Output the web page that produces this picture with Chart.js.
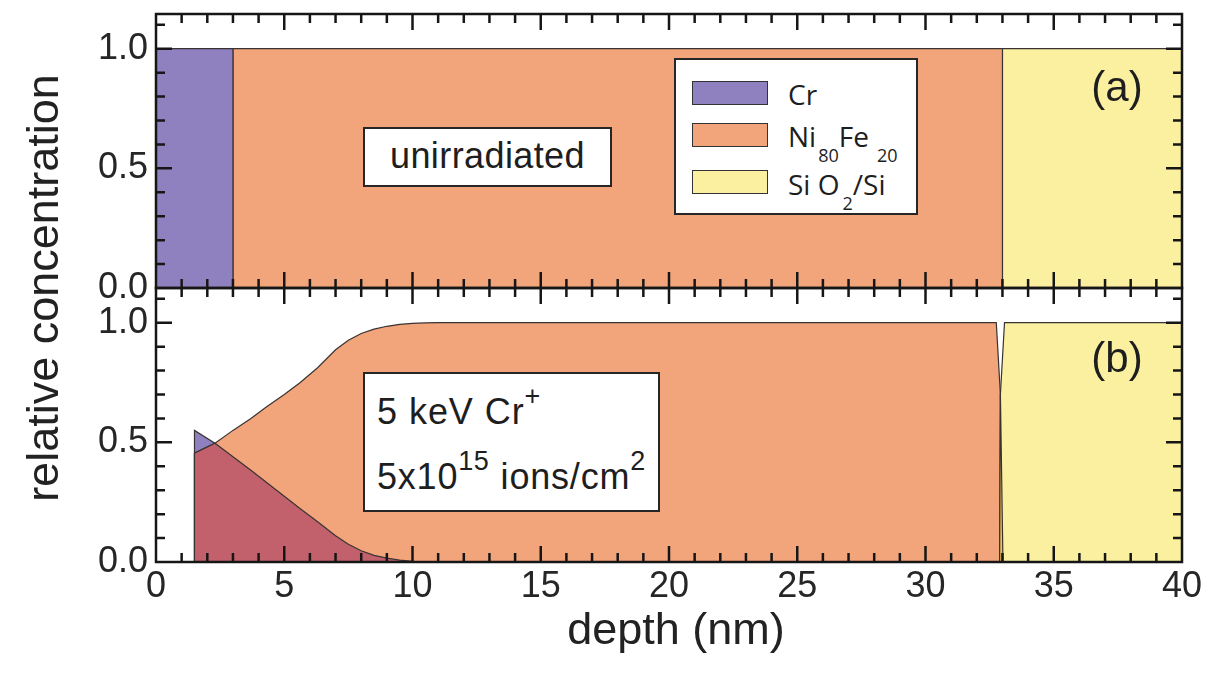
<!DOCTYPE html>
<html>
<head>
<meta charset="utf-8">
<title>Cr depth profiles in Ni80Fe20</title>
<script src="https://cdn.jsdelivr.net/npm/chart.js@4.4.1/dist/chart.umd.min.js"></script>
<style>
  html, body { margin: 0; padding: 0; background: #fff; }
  #wrap { position: relative; width: 1210px; height: 675px; overflow: hidden;
          font-family: "Liberation Sans", Arial, sans-serif; color: #1e1e1e; }
  #chart { position: absolute; left: 0; top: 0; }
  .box { position: absolute; background: #fff; border: 2px solid #262626; box-sizing: border-box; }
  .line { position: absolute; white-space: nowrap; }
  .wide { font-size: 36px; line-height: 36px; letter-spacing: 0.8px; word-spacing: 0.5px; }
  .sup { position: relative; top: -19px; font-size: 27px; line-height: 0; vertical-align: baseline; letter-spacing: 0.5px; }
  .sub { position: relative; top: 15px; font-size: 18px; line-height: 0; vertical-align: baseline; }
  .tag { position: absolute; font-size: 42px; line-height: 42px; transform: translate(-50%, -50%); }
  #legend { font-family: "Open Sans", "Liberation Sans", sans-serif; }
  .swatch { position: absolute; width: 76px; height: 24px; border: 1.5px solid #333; box-sizing: border-box; }
  .ltext { position: absolute; font-size: 28px; line-height: 28px; white-space: nowrap; }
</style>
</head>
<body>
<div id="wrap">
  <canvas id="chart" width="1210" height="675"></canvas>

  <div class="box" style="left:363px; top:127px; width:249px; height:60px;">
    <div class="line" style="left:0; right:0; top:9px; text-align:center; font-size:36px; line-height:36px; letter-spacing:0.4px;">unirradiated</div>
  </div>

  <div class="box" style="left:363px; top:372px; width:297px; height:140px;">
    <div class="line wide" style="left:12px; top:20px;">5 keV Cr<span class="sup">+</span></div>
    <div class="line wide" style="left:12px; top:85px;">5x10<span class="sup">15</span> ions/cm<span class="sup">2</span></div>
  </div>

  <div class="tag" style="left:1117px; top:87px;">(a)</div>
  <div class="tag" style="left:1117px; top:358px;">(b)</div>

  <div class="box" id="legend" style="left:674px; top:58px; width:244px; height:157px;"></div>
</div>

<script>
// Layer colours
const COLOR_CR   = '#8f80bf';
const COLOR_NIFE = '#f2a47b';
const COLOR_SIO  = '#faf09f';
const COLOR_MIX  = '#c2616b';   // Cr mixed into the Ni80Fe20 film
const COLOR_IF   = '#f0c050';   // Ni80Fe20 / SiO2 interface mixing
const EDGE       = '#3a3333';

// Tick labels
const depthTicks = [0, 5, 10, 15, 20, 25, 30, 35, 40];
const concTicks  = [0.0, 0.5, 1.0];

// (a) unirradiated layer stack: Cr cap / Ni80Fe20 film / SiO2 substrate
const crDepthA   = [0, 3, 3];
const crConcA    = [1, 1, 0];
const nifeDepthA = [3, 3, 33, 33];
const nifeConcA  = [0, 1, 1, 0];
const sioDepthA  = [33, 33, 40];
const sioConcA   = [0, 1, 1];

// (b) after 5 keV Cr+ irradiation, 5x10^15 ions/cm^2
const depthB    = [1.5, 1.5, 2.3, 3.0, 3.7, 4.3, 5.0, 5.6, 6.3, 7.0, 7.5, 8.0, 8.5, 9.0, 9.5, 10.0, 10.5, 11.0];
const crConcB   = [0, 0.55, 0.496, 0.44, 0.383, 0.333, 0.275, 0.225, 0.168, 0.11, 0.074, 0.047, 0.028, 0.016, 0.008, 0.003, 0.001, 0];
const nifeConcB = [0, 0.455, 0.496, 0.55, 0.60, 0.648, 0.70, 0.748, 0.812, 0.887, 0.927, 0.955, 0.973, 0.985, 0.993, 0.997, 0.999, 1.0];
const nifeTailDepthB = [32.76, 32.92, 33.02];
const nifeTailConcB  = [1.0, 0.7, 0];
const sioDepthB = [32.89, 32.92, 33.08, 40];
const sioConcB  = [0, 0.7, 1.0, 1.0];

const FONT = '"Liberation Sans", Arial, sans-serif';
const pts = (xs, ys) => xs.map((x, i) => ({ x, y: ys[i] }));

// Linear value of a profile at depth x (zero outside it)
function valueAt(xs, ys, x) {
  if (x < xs[0] || x > xs[xs.length - 1]) return 0;
  for (let i = 1; i < xs.length; i++) {
    if (x <= xs[i]) {
      const dx = xs[i] - xs[i - 1];
      return dx === 0 ? ys[i] : ys[i - 1] + (ys[i] - ys[i - 1]) * (x - xs[i - 1]) / dx;
    }
  }
  return ys[ys.length - 1];
}

// Region shared by two profiles: pointwise minimum, including crossings
function sharedRegion(xsA, ysA, xsB, ysB) {
  const lo = Math.max(xsA[0], xsB[0]);
  const hi = Math.min(xsA[xsA.length - 1], xsB[xsB.length - 1]);
  const grid = [...new Set(xsA.concat(xsB))].filter(x => x >= lo && x <= hi).sort((a, b) => a - b);
  const out = [];
  grid.forEach((x, i) => {
    if (i > 0) {
      const x0 = grid[i - 1];
      const d0 = valueAt(xsA, ysA, x0) - valueAt(xsB, ysB, x0);
      const d1 = valueAt(xsA, ysA, x) - valueAt(xsB, ysB, x);
      if (d0 * d1 < 0) {
        const xc = x0 + (x - x0) * d0 / (d0 - d1);
        out.push({ x: xc, y: valueAt(xsA, ysA, xc) });
      }
    }
    out.push({ x, y: Math.min(valueAt(xsA, ysA, x), valueAt(xsB, ysB, x)) });
  });
  return out;
}

function area(label, data, yAxisID, color, order) {
  return {
    label, data, yAxisID, order,
    backgroundColor: color, borderColor: EDGE, borderWidth: 1.2,
    fill: 'origin', pointRadius: 0, tension: 0
  };
}

const nifeDepthFullB = depthB.concat(nifeTailDepthB);
const nifeConcFullB  = nifeConcB.concat(nifeTailConcB);

const datasets = [
  area('Cr',       pts(crDepthA, crConcA),     'yA', COLOR_CR,   0),
  area('Ni80Fe20', pts(nifeDepthA, nifeConcA), 'yA', COLOR_NIFE, 0),
  area('SiO2/Si',  pts(sioDepthA, sioConcA),   'yA', COLOR_SIO,  0),
  area('Cr',       pts(depthB, crConcB),       'yB', COLOR_CR,   6),
  area('Ni80Fe20', pts(nifeDepthFullB, nifeConcFullB), 'yB', COLOR_NIFE, 5),
  area('Cr in Ni80Fe20', depthB.map((x, i) => ({ x, y: Math.min(crConcB[i], nifeConcB[i]) })), 'yB', COLOR_MIX, 4),
  area('SiO2/Si',  pts(sioDepthB, sioConcB),   'yB', COLOR_SIO,  3),
  area('Ni80Fe20 in SiO2', sharedRegion(nifeTailDepthB, nifeTailConcB, sioDepthB, sioConcB), 'yB', COLOR_IF, 2)
];

function concAxis(weight) {
  return {
    type: 'linear', position: 'left', stack: 'conc', stackWeight: 1, weight,
    min: 0, max: 1.145,
    grid: { display: false, drawTicks: false }, border: { display: false },
    afterBuildTicks: s => { s.ticks = concTicks.map(v => ({ value: v })); },
    afterFit: s => { s.width = 156; s.paddingTop = 0; s.paddingBottom = 0; },
    ticks: { padding: 8, color: '#262626', font: { family: FONT, size: 36 },
             callback: v => Number(v).toFixed(1) }
  };
}

// Boxed panels with inward ticks on all four sides, plus axis titles
const MAJOR = 16, MINOR = 9;
const panelFrames = {
  id: 'panelFrames',
  afterDraw(chart) {
    const { ctx, chartArea: ca, scales } = chart;
    const x = scales.x;
    const xv = x.ticks.map(t => t.value);
    const xMinor = (xv[1] - xv[0]) / 5;
    ctx.save();
    ctx.globalAlpha = 1;
    ctx.setLineDash([]);
    ctx.strokeStyle = '#161616';
    ctx.lineWidth = 2.5;
    ctx.lineCap = 'butt';
    ['yA', 'yB'].forEach(id => {
      const y = scales[id];
      const top = y.top, bot = y.bottom, L = ca.left, R = ca.right;
      ctx.beginPath();
      for (let k = 0; x.min + k * xMinor <= x.max + 1e-9; k++) {
        const px = x.getPixelForValue(x.min + k * xMinor);
        const len = k % 5 === 0 ? MAJOR : MINOR;
        ctx.moveTo(px, bot); ctx.lineTo(px, bot - len);
        ctx.moveTo(px, top); ctx.lineTo(px, top + len);
      }
      const yv = y.ticks.map(t => t.value);
      const yMinor = (yv[1] - yv[0]) / 5;
      for (let k = 0; y.min + k * yMinor <= y.max + 1e-9; k++) {
        const py = y.getPixelForValue(y.min + k * yMinor);
        const len = k % 5 === 0 ? MAJOR : MINOR;
        ctx.moveTo(L, py); ctx.lineTo(L + len, py);
        ctx.moveTo(R, py); ctx.lineTo(R - len, py);
      }
      ctx.rect(L, top, R - L, bot - top);
      ctx.stroke();
    });

    ctx.fillStyle = '#222';
    ctx.font = '45px ' + FONT;
    ctx.textAlign = 'center';
    ctx.textBaseline = 'middle';
    ctx.fillText('depth (nm)', (ca.left + ca.right) / 2 + 7, ca.bottom + 70);
    ctx.translate(46, (scales.yA.top + scales.yB.bottom) / 2);
    ctx.rotate(-Math.PI / 2);
    ctx.fillText('relative concentration', 0, 0);
    ctx.restore();
  }
};

new Chart(document.getElementById('chart'), {
  type: 'line',
  data: { datasets },
  options: {
    responsive: false, animation: false, devicePixelRatio: 1,
    layout: { padding: { top: 14, right: 28, left: 0, bottom: 0 } },
    plugins: { legend: { display: false }, tooltip: { enabled: false } },
    scales: {
      x: {
        type: 'linear', position: 'bottom', min: 0, max: 40,
        grid: { display: false, drawTicks: false }, border: { display: false },
        afterBuildTicks: s => { s.ticks = depthTicks.map(v => ({ value: v })); },
        afterFit: s => { s.height = 113; },
        ticks: { padding: 3, color: '#262626', font: { family: FONT, size: 36 },
                 callback: v => String(v) }
      },
      yB: concAxis(0),
      yA: concAxis(1)
    }
  },
  plugins: [panelFrames]
});

// Legend built from the layer colours
const legendItems = [
  { color: COLOR_CR,   html: 'Cr' },
  { color: COLOR_NIFE, html: 'Ni<span class="sub" style="margin-left:2px">80</span>Fe<span class="sub" style="margin-left:8px">20</span>' },
  { color: COLOR_SIO,  html: 'Si O<span class="sub" style="margin-left:3px">2</span>/Si' }
];
const swatchTops = [21, 63, 110];
const textTops   = [20, 62, 110];
const legend = document.getElementById('legend');
legendItems.forEach((item, i) => {
  const sw = document.createElement('div');
  sw.className = 'swatch';
  sw.style.left = '16px';
  sw.style.top = swatchTops[i] + 'px';
  sw.style.background = item.color;
  legend.appendChild(sw);
  const tx = document.createElement('div');
  tx.className = 'ltext';
  tx.style.left = '112px';
  tx.style.top = textTops[i] + 'px';
  tx.innerHTML = item.html;
  legend.appendChild(tx);
});
</script>
</body>
</html>
